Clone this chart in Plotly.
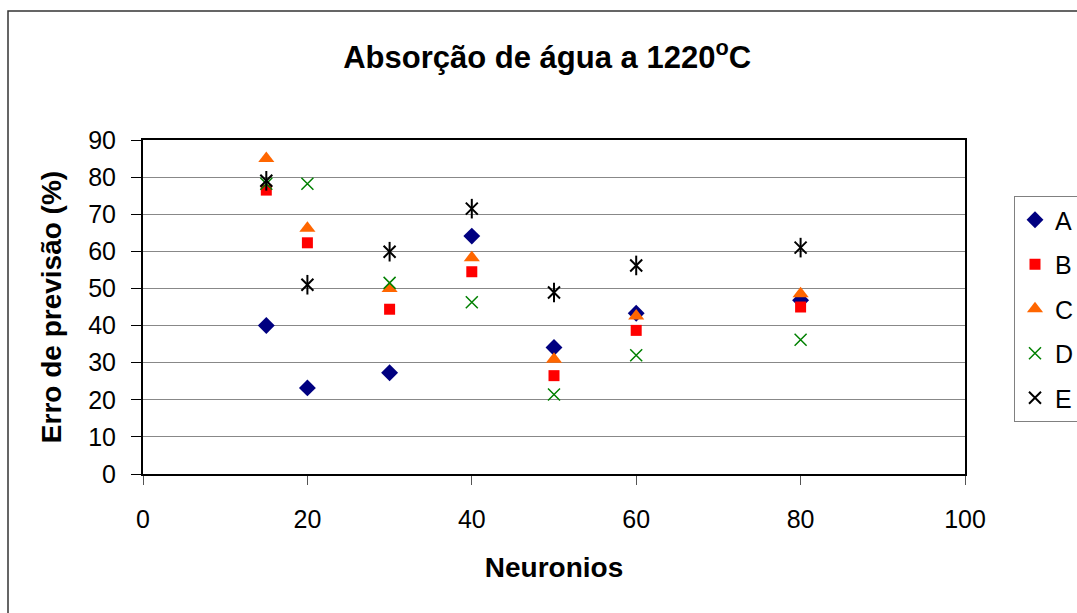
import plotly.graph_objects as go

neuronios = [15, 20, 30, 40, 50, 60, 80]
serie_a = [40.0, 23.2, 27.3, 64.1, 34.1, 43.3, 46.8]
serie_b = [76.5, 62.3, 44.4, 54.5, 26.5, 38.7, 45.0]
serie_c = [85.0, 66.2, 50.0, 58.3, 30.9, 42.6, 48.6]
serie_d = [78.2, 78.2, 51.5, 46.3, 21.4, 32.0, 36.2]
serie_e = [79.0, 51.0, 59.9, 71.5, 48.9, 56.2, 61.0]
x_ticks = [0, 20, 40, 60, 80, 100]
y_ticks = [0, 10, 20, 30, 40, 50, 60, 70, 80, 90]

FONT = "Liberation Sans, Arial, sans-serif"

fig = go.Figure()
fig.add_trace(go.Scatter(x=neuronios, y=serie_a, mode="markers", name="A",
                         legendgroup="A",
                         marker=dict(symbol="diamond", size=13, color="#000080")))
fig.add_trace(go.Scatter(x=neuronios, y=serie_b, mode="markers", name="B",
                         legendgroup="B",
                         marker=dict(symbol="square", size=11, color="#FF0000")))
fig.add_trace(go.Scatter(x=neuronios, y=serie_c, mode="markers", name="C",
                         legendgroup="C",
                         marker=dict(symbol="triangle-up", size=14, color="#FF6600")))
fig.add_trace(go.Scatter(x=neuronios, y=serie_d, mode="markers", name="D",
                         legendgroup="D",
                         marker=dict(symbol="x-thin-open", size=12, color="#008000",
                                     line=dict(color="#008000", width=1.5))))
fig.add_trace(go.Scatter(x=neuronios, y=serie_e, mode="markers", name="E",
                         legendgroup="E",
                         marker=dict(symbol="x-thin-open", size=12, color="#000000",
                                     line=dict(color="#000000", width=2))))
fig.add_trace(go.Scatter(x=neuronios, y=serie_e, mode="markers", name="E",
                         legendgroup="E", showlegend=False,
                         marker=dict(symbol="line-ns-open", size=14, color="#000000",
                                     line=dict(color="#000000", width=2))))

fig.update_layout(
    width=1077, height=613,
    margin=dict(l=143, r=112, t=140, b=139, autoexpand=False),
    paper_bgcolor="white", plot_bgcolor="white",
    font=dict(family=FONT, size=25, color="black"),
    title=dict(text="<b>Absorção de água a 1220<sup>o</sup>C</b>",
               x=0.508, xref="container", xanchor="center",
               y=1 - 57 / 613, yref="container", yanchor="middle",
               font=dict(family=FONT, size=31, color="black")),
    showlegend=True,
    legend=dict(x=(1014 - 143) / 822, xanchor="left",
                y=(474 - 196) / 334, yanchor="top",
                bordercolor="#808080", borderwidth=1, bgcolor="white",
                font=dict(family=FONT, size=25, color="black"),
                tracegroupgap=9),
    xaxis=dict(range=[0, 100], tickvals=x_ticks, showgrid=False, zeroline=False,
               showline=True, linecolor="black", linewidth=2, mirror=True,
               ticks="outside", ticklen=9, tickcolor="#555555", tickwidth=1,
               ticklabelstandoff=13,
               title=dict(text="<b>Neuronios</b>", standoff=25,
                          font=dict(family=FONT, size=28, color="black"))),
    yaxis=dict(range=[0, 90], tickvals=y_ticks, showgrid=True, gridcolor="#888888",
               gridwidth=1, zeroline=False,
               showline=True, linecolor="black", linewidth=2, mirror=True,
               ticks="outside", ticklen=10, tickcolor="black", tickwidth=1,
               ticklabelstandoff=10,
               title=dict(text="<b>Erro de previsão (%)</b>", standoff=18,
                          font=dict(family=FONT, size=28, color="black"))),
    shapes=[dict(type="rect", xref="paper", yref="paper",
                 x0=(8 - 143) / 822, x1=(1085 - 143) / 822,
                 y0=(474 - 620) / 334, y1=(474 - 11) / 334,
                 line=dict(color="#333333", width=1.5), layer="below")],
)

fig.write_html("out.html")
